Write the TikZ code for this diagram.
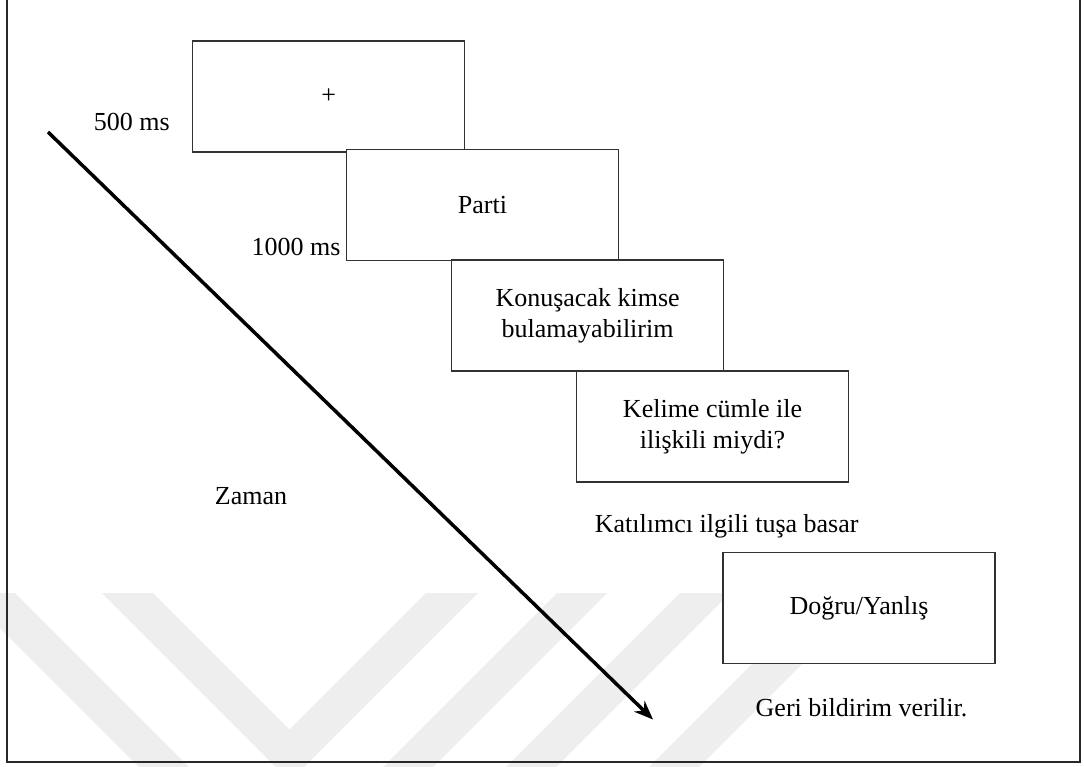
\documentclass[tikz,border=0pt]{standalone}
\usepackage{fontspec}
\setmainfont{Liberation Serif}
\usetikzlibrary{arrows.meta}
\definecolor{wm}{RGB}{238,238,238}
\definecolor{edge}{RGB}{50,50,50}
\tikzset{
  stim/.style={draw=edge, line width=1.4pt, fill=white, minimum width=272pt, minimum height=111pt, inner sep=0pt, align=center, font=\fontsize{26}{31}\selectfont},
  lbl/.style={inner sep=0pt, anchor=base, font=\fontsize{26}{31}\selectfont},
  band/.style={fill=wm, draw=none},
  frameline/.style={draw=edge!80!black, line width=2pt},
  timearrow/.style={line width=3.5pt, -{Stealth[length=19pt, width=15pt]}}
}
\begin{document}
\begin{tikzpicture}[x=1pt, y=-1pt]
\useasboundingbox (0,0) rectangle (1084,766);
\fill[white] (0,0) rectangle (1084,766);
% watermark
\begin{scope}
\clip (0,0) rectangle (1084,766);
\fill[band] (-35,593) -- (15,593) -- (215,793) -- (165,793) -- cycle;
\fill[band] (102,593) -- (153,593) -- (289.5,729.5) -- (426,593) -- (478,593) -- (290,781) -- cycle;
\fill[band] (557,593) -- (607,593) -- (407,793) -- (357,793) -- cycle;
\fill[band] (680,593) -- (730,593) -- (530,793) -- (480,793) -- cycle;
\fill[band] (823,593) -- (873,593) -- (673,793) -- (623,793) -- cycle;
\end{scope}
% frame
\draw[frameline] (7,0) -- (7,761.5) -- (1079.5,761.5) -- (1079.5,0);
% stimulus screens
\node[stim] (fix) at (328.7,96.5) {+};
\node[stim] (prime) at (482.5,204.9) {Parti};
\node[stim] (sent) at (587.6,315.5) {Konuşacak kimse\\bulamayabilirim};
\node[stim] (quest) at (712.5,426.6) {Kelime cümle ile\\ilişkili miydi?};
\node[stim] (fb) at (859,607.8) {Doğru/Yanlış};
% labels
\node[lbl] (t500) at (131.8,130.7) {500 ms};
\node[lbl] (t1000) at (296,255.7) {1000 ms};
\node[lbl] (zaman) at (251,504) {Zaman};
\node[lbl] (resp) at (726.7,532) {Katılımcı ilgili tuşa basar};
\node[lbl] (geri) at (861.5,716) {Geri bildirim verilir.};
% time arrow
\coordinate (tstart) at (48,132);
\coordinate (tend) at (653,719.5);
\draw[timearrow] (tstart) -- (tend);
\end{tikzpicture}
\end{document}
